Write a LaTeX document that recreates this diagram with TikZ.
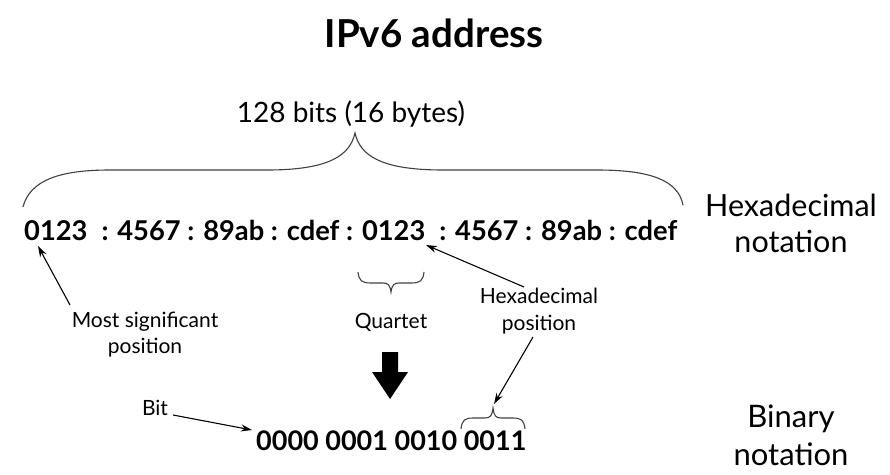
\documentclass[tikz,border=0pt]{standalone}
\usepackage{fontspec}
\setmainfont{Lato}
\usetikzlibrary{arrows.meta}
\tikzset{
  lbl/.style={inner sep=0pt, anchor=base, align=center},
  conn/.style={line width=1.1pt, -{Stealth[length=11pt,width=7pt]}},
  brc/.style={line width=1.1pt, draw=black!75},
}
\begin{document}
\begin{tikzpicture}[x=1pt,y=-1pt]
\useasboundingbox (0,0) rectangle (890,474);
% title
\node[lbl,font=\fontsize{38.5}{42}\selectfont\bfseries] (title) at (434,47) {IPv6 address};
\node[lbl,font=\fontsize{28}{32}\selectfont] (bits) at (351,122) {128 bits (16 bytes)};
% top brace
\draw[brc] (23,207) .. controls (30,180) and (60,170) .. (110,170) -- (267,170)
  .. controls (330,170) and (350,155) .. (355,133)
  .. controls (360,155) and (380,170) .. (443,170) -- (597,170)
  .. controls (650,170) and (678,180) .. (683,205);
% hex line
\node[lbl,anchor=base west,font=\fontsize{27.3}{30}\selectfont\bfseries] (hex) at (24,240)
  {0123\hspace{14pt}: 4567 : 89ab : cdef : 0123\hspace{14pt}: 4567 : 89ab : cdef};
\node[lbl,font=\fontsize{30.5}{36}\selectfont] (hexnot) at (791,252) {Hexadecimal\\notation};
% labels
\node[lbl,font=\fontsize{21}{26}\selectfont] (msp) at (145,353) {Most significant\\position};
\node[lbl,font=\fontsize{21}{26}\selectfont] (quart) at (391,328) {Quartet};
\node[lbl,font=\fontsize{21}{27}\selectfont] (hexpos) at (539,330) {Hexadecimal\\position};
\node[lbl,font=\fontsize{21}{26}\selectfont] (bit) at (155,415) {Bit};
\node[lbl,anchor=base west,font=\fontsize{27}{30}\selectfont\bfseries] (bin) at (256,450) {0000 0001 0010 0011};
\node[lbl,font=\fontsize{31}{38}\selectfont] (binnot) at (791,465) {Binary\\notation};
% quartet brace
\draw[brc] (358,272) .. controls (359,281) and (362,283) .. (371,283) -- (383,283)
  .. controls (388,283) and (390,285) .. (391,292)
  .. controls (392,285) and (394,283) .. (399,283) -- (411,283)
  .. controls (420,283) and (423,281) .. (424,272);
% binary brace
\draw[brc] (461,429) .. controls (462,420) and (465,418) .. (473,418) -- (485,418)
  .. controls (490,418) and (492,416) .. (493,408)
  .. controls (494,416) and (496,418) .. (501,418) -- (513,418)
  .. controls (521,418) and (524,420) .. (525,429);
% connectors
\coordinate (mspt) at (70,305);
\coordinate (msph) at (38,246);
\coordinate (hpt) at (524,287);
\coordinate (hph) at (426,245);
\coordinate (hpb) at (533,337);
\coordinate (bbr) at (494,404);
\coordinate (bitt) at (173,415);
\coordinate (bith) at (252,430);
\draw[conn] (mspt) -- (msph);
\draw[conn] (hpt) -- (hph);
\draw[conn] (hpb) -- (bbr);
\draw[conn] (bitt) -- (bith);
% big arrow
\fill (382,352) -- (398,352) -- (398,372) -- (408,372) -- (390,399) -- (372,372) -- (382,372) -- cycle;
\end{tikzpicture}
\end{document}
